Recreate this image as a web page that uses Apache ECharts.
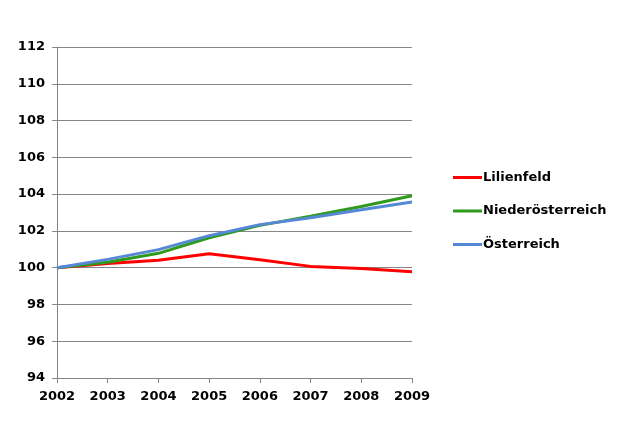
<!DOCTYPE html>
<html><head><meta charset="utf-8">
<script src="https://cdn.jsdelivr.net/npm/echarts@6/dist/echarts.min.js"></script>
<style>html,body{margin:0;padding:0;background:#fff}#c{width:631px;height:432px}</style>
</head><body><div id="c"></div>
<script>
const years = ['2002','2003','2004','2005','2006','2007','2008','2009'];
const lilienfeld = [100, 100.22, 100.4, 100.76, 100.43, 100.07, 99.95, 99.78];
const niederoesterreich = [100, 100.3, 100.78, 101.63, 102.3, 102.8, 103.33, 103.91];
const oesterreich = [100, 100.45, 100.98, 101.74, 102.34, 102.72, 103.15, 103.57];
const seriesNames = ['Lilienfeld','Niederösterreich','Österreich'];
const colors = ['#FF0000','#2F9A1C','#5589D6'];
const font = {fontFamily:'DejaVu Sans', fontWeight:'bold', fontSize:13, color:'#000'};
const chart = echarts.init(document.getElementById('c'), null, {renderer:'canvas'});
chart.setOption({
  animation:false,
  backgroundColor:'#fff',
  grid:{left:57, right:219, top:47, bottom:54, containLabel:false},
  legend:{
    orient:'vertical', left:448, top:166, itemGap:20.5, itemWidth:29, itemHeight:14,
    icon:'path://M0,6L29,6L29,9L0,9Z',
    textStyle:Object.assign({}, font, {padding:[0,0,0,-4]}),
    data:seriesNames
  },
  xAxis:{
    type:'category', data:years, boundaryGap:false,
    axisLine:{lineStyle:{color:'#868686', width:1}},
    axisTick:{show:true, length:5, inside:false, alignWithLabel:true, lineStyle:{color:'#868686'}},
    axisLabel:Object.assign({}, font, {margin:12}),
    splitLine:{show:false}
  },
  yAxis:{
    type:'value', min:94, max:112, interval:2,
    axisLine:{show:true, lineStyle:{color:'#868686', width:1}},
    axisTick:{show:true, length:5, inside:false, lineStyle:{color:'#868686'}},
    axisLabel:Object.assign({}, font, {margin:12}),
    splitLine:{show:true, lineStyle:{color:'#868686', width:1}}
  },
  series:[
    {name:seriesNames[0], type:'line', data:lilienfeld, symbol:'none', lineStyle:{width:3, color:colors[0]}, itemStyle:{color:colors[0]}, z:3},
    {name:seriesNames[1], type:'line', data:niederoesterreich, symbol:'none', lineStyle:{width:3, color:colors[1]}, itemStyle:{color:colors[1]}, z:4},
    {name:seriesNames[2], type:'line', data:oesterreich, symbol:'none', lineStyle:{width:3, color:colors[2]}, itemStyle:{color:colors[2]}, z:5}
  ]
});
</script></body></html>
